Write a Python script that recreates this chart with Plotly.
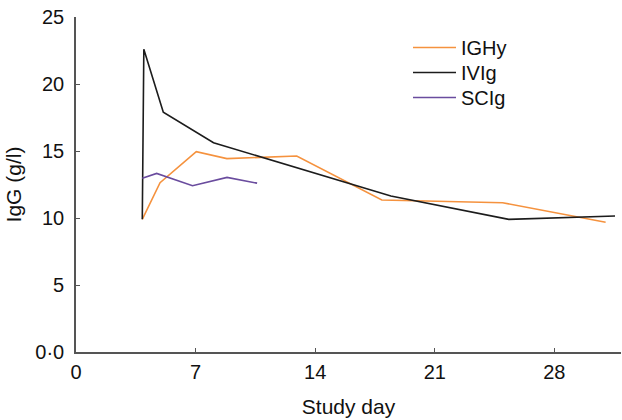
import plotly.graph_objects as go

# Data
ighy_day = [3.88, 4.92, 7.04, 8.83, 12.92, 17.9, 24.97, 31.0]
ighy_igg = [9.9, 12.63, 14.95, 14.43, 14.63, 11.34, 11.14, 9.68]

ivig_day = [3.88, 3.97, 5.11, 8.05, 18.43, 25.33, 31.55]
ivig_igg = [9.9, 22.6, 17.9, 15.62, 11.64, 9.9, 10.15]

scig_day = [3.88, 4.72, 6.82, 8.84, 10.6]
scig_igg = [12.96, 13.33, 12.41, 13.03, 12.6]

x_ticks = [0, 7, 14, 21, 28]
y_ticks = [0, 5, 10, 15, 20, 25]
y_ticktext = ["0·0", "5", "10", "15", "20", "25"]

W, H = 622, 420
ml, mr, mt, mb = 76, 1, 17, 68
PW, PH = W - ml - mr, H - mt - mb

FAM = "Liberation Sans, Arial, sans-serif"

fig = go.Figure()
fig.add_trace(go.Scatter(x=ighy_day, y=ighy_igg, mode="lines", name="IGHy", legend="legend",
                         line=dict(color="#F5923E", width=1.6)))
fig.add_trace(go.Scatter(x=ivig_day, y=ivig_igg, mode="lines", name="IVIg", legend="legend2",
                         line=dict(color="#1c1c1c", width=1.6)))
fig.add_trace(go.Scatter(x=scig_day, y=scig_igg, mode="lines", name="SCIg", legend="legend3",
                         line=dict(color="#6A4C9E", width=1.6)))


def leg(top_px):
    return dict(x=(408 - ml) / PW, y=(H - mb - top_px) / PH,
                xanchor="left", yanchor="top", bgcolor="rgba(0,0,0,0)",
                itemwidth=43,
                font=dict(family=FAM, size=20, color="#111111"))


fig.update_layout(
    width=W, height=H,
    margin=dict(l=ml, r=mr, t=mt, b=mb, autoexpand=False),
    paper_bgcolor="white", plot_bgcolor="white",
    font=dict(family=FAM, size=20, color="#111111"),
    showlegend=True,
    legend=leg(28), legend2=leg(53), legend3=leg(78),
    xaxis=dict(range=[0, 31.9], tickmode="array", tickvals=x_ticks,
               ticks="inside", ticklen=4, tickwidth=1, tickcolor="#555555",
               showline=True, linecolor="#555555", linewidth=1.6,
               showgrid=False, zeroline=False, ticklabelstandoff=1,
               title=dict(text="Study day", font=dict(size=21), standoff=18),
               fixedrange=True),
    yaxis=dict(range=[0, 25], tickmode="array", tickvals=y_ticks, ticktext=y_ticktext,
               ticks="inside", ticklen=4, tickwidth=1, tickcolor="#555555",
               showline=True, linecolor="#555555", linewidth=1.6,
               showgrid=False, zeroline=False, ticklabelstandoff=6,
               title=dict(text="IgG (g/l)", font=dict(size=21), standoff=8),
               fixedrange=True),
)

fig.write_html("out.html", config={"displayModeBar": False},
               post_script="document.body.style.margin='0';document.body.style.overflow='hidden';")
